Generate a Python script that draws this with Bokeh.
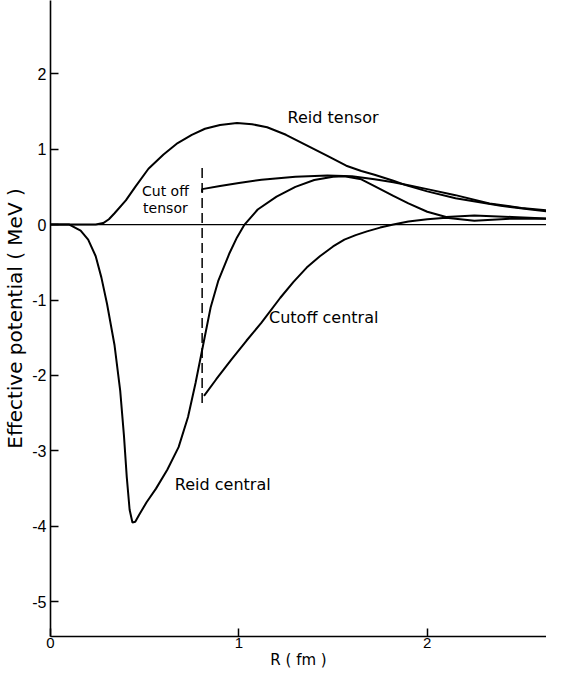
from bokeh.plotting import figure
from bokeh.models import FixedTicker, Label, Range1d
from bokeh.embed import file_html
from bokeh.resources import INLINE

# ---- data (R in fm, potential in MeV) ----
reid_central_r = [0.0, 0.10, 0.16, 0.20, 0.24, 0.27, 0.30, 0.34, 0.37, 0.39, 0.405, 0.42, 0.435,
                  0.45, 0.47, 0.51, 0.56, 0.62, 0.68, 0.73, 0.77, 0.81, 0.85, 0.89, 0.95, 0.99,
                  1.03, 1.10, 1.20, 1.30, 1.40, 1.50, 1.56, 1.65, 1.72, 1.82, 1.90, 2.00, 2.10,
                  2.25, 2.45, 2.68]
reid_central_v = [0.0, 0.0, -0.08, -0.2, -0.42, -0.7, -1.05, -1.6, -2.2, -2.8, -3.35, -3.78, -3.95,
                  -3.94, -3.85, -3.68, -3.5, -3.25, -2.95, -2.55, -2.1, -1.6, -1.1, -0.75, -0.38,
                  -0.17, 0.0, 0.2, 0.37, 0.5, 0.59, 0.635, 0.64, 0.6, 0.51, 0.38, 0.28, 0.17, 0.10,
                  0.12, 0.10, 0.075]

reid_tensor_r = [0.0, 0.24, 0.28, 0.31, 0.34, 0.40, 0.45, 0.52, 0.60, 0.675, 0.75, 0.82, 0.90,
                 0.99, 1.07, 1.15, 1.25, 1.36, 1.47, 1.57, 1.65, 1.72, 1.82, 1.89, 2.0, 2.15,
                 2.39, 2.55, 2.68]
reid_tensor_v = [0.0, 0.0, 0.02, 0.07, 0.15, 0.32, 0.50, 0.74, 0.93, 1.08, 1.19, 1.27, 1.32,
                 1.345, 1.33, 1.29, 1.19, 1.05, 0.91, 0.78, 0.71, 0.66, 0.58, 0.52, 0.44, 0.35,
                 0.25, 0.20, 0.16]

cutoff_tensor_r = [0.805, 0.805, 0.9, 1.0, 1.12, 1.3, 1.47, 1.6, 1.72, 1.82, 1.9, 2.0, 2.15,
                   2.33, 2.5, 2.68]
cutoff_tensor_v = [0.43, 0.47, 0.51, 0.55, 0.595, 0.635, 0.65, 0.64, 0.60, 0.56, 0.52, 0.47,
                   0.39, 0.28, 0.22, 0.18]

cutoff_central_r = [0.815, 0.88, 0.96, 1.04, 1.12, 1.22, 1.29, 1.36, 1.43, 1.50, 1.56, 1.62,
                    1.68, 1.75, 1.82, 1.90, 2.0, 2.1, 2.25, 2.45, 2.68]
cutoff_central_v = [-2.27, -2.05, -1.79, -1.54, -1.30, -0.97, -0.76, -0.57, -0.42, -0.29, -0.20,
                    -0.14, -0.09, -0.04, 0.0, 0.04, 0.07, 0.09, 0.05, 0.08, 0.075]

cutoff_r = [0.805, 0.805]
cutoff_v = [0.75, -2.40]

zero_r = [0.0, 2.7]
zero_v = [0.0, 0.0]

x_ticks = [0, 1, 2]
y_ticks = [-5, -4, -3, -2, -1, 0, 1, 2]

TICK_FONT = "Liberation Sans"
TEXT_FONT = "DejaVu Sans"

p = figure(width=546, height=672, output_backend="svg", toolbar_location=None,
           x_range=Range1d(0, 2.633), y_range=Range1d(-5.46, 2.97),
           min_border_left=47, min_border_right=0, min_border_top=0, min_border_bottom=36)
p.grid.visible = False
p.outline_line_color = None
p.background_fill_color = "white"
p.border_fill_color = "white"

for ax in (p.xaxis[0], p.yaxis[0]):
    ax.axis_line_width = 1.6
    ax.axis_line_color = "black"
    ax.major_tick_line_width = 1.5
    ax.major_tick_line_color = "black"
    ax.major_tick_in = 8
    ax.major_tick_out = 0
    ax.minor_tick_line_color = None
    ax.major_label_text_font = TICK_FONT
    ax.major_label_text_color = "black"
    ax.axis_label_text_font = TEXT_FONT
    ax.axis_label_text_font_style = "normal"
    ax.axis_label_text_color = "black"

p.xaxis.ticker = FixedTicker(ticks=x_ticks)
p.yaxis.ticker = FixedTicker(ticks=y_ticks)
p.yaxis.major_label_overrides = {t: str(t) for t in y_ticks}
p.xaxis.major_label_text_font_size = "15px"
p.yaxis.major_label_text_font_size = "16px"
p.xaxis.major_label_standoff = 1
p.yaxis.major_label_standoff = 4
p.yaxis.axis_label = "Effective potential ( MeV )"
p.yaxis.axis_label_text_font_size = "20px"
p.yaxis.axis_label_standoff = 2
p.xaxis.axis_label = "R ( fm )"
p.xaxis.axis_label_text_font_size = "15px"
p.xaxis.axis_label_standoff = 0

# zero line
p.line(zero_r, zero_v, line_color="black", line_width=1.3)

# curves
p.line(reid_central_r, reid_central_v, line_color="black", line_width=2)
p.line(reid_tensor_r, reid_tensor_v, line_color="black", line_width=2)
p.line(cutoff_tensor_r, cutoff_tensor_v, line_color="black", line_width=2)
p.line(cutoff_central_r, cutoff_central_v, line_color="black", line_width=2)
p.line(cutoff_r, cutoff_v, line_color="black", line_width=1.5, line_dash="10 5")

def lab(x, y, t, size="16px", align="left"):
    p.add_layout(Label(x=x, y=y, text=t, text_font=TEXT_FONT, text_font_size=size,
                       text_align=align, text_baseline="middle", text_color="black"))

lab(1.50, 1.42, "Reid tensor", align="center")
lab(0.61, 0.44, "Cut off", size="14px", align="center")
lab(0.61, 0.225, "tensor", size="14px", align="center")
lab(1.16, -1.23, "Cutoff central")
lab(0.66, -3.45, "Reid central")

open("out.html", "w").write(file_html(p, INLINE))
